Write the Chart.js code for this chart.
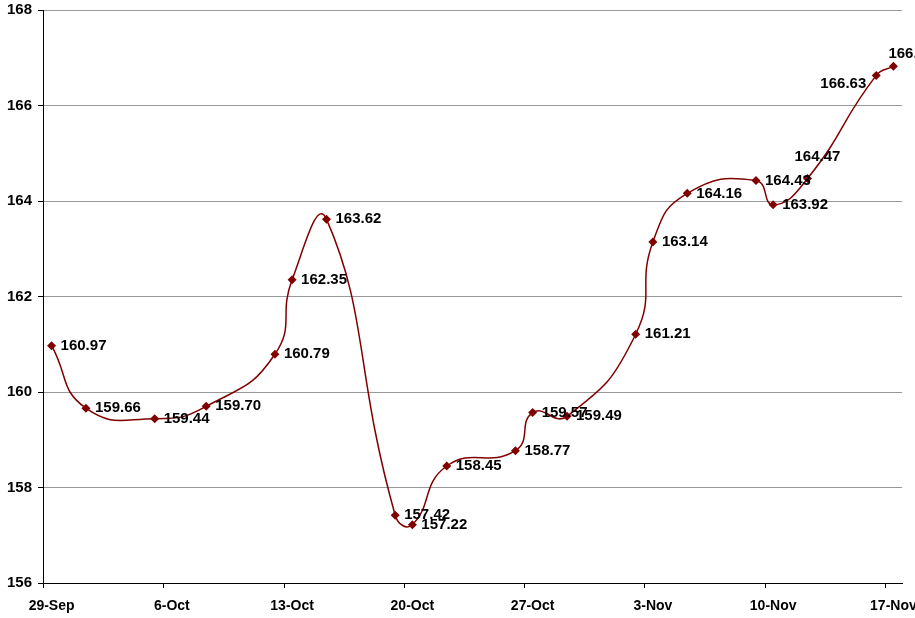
<!DOCTYPE html>
<html>
<head>
<meta charset="utf-8">
<script src="https://cdn.jsdelivr.net/npm/chart.js@4.4.0/dist/chart.umd.min.js"></script>
<style>
  html, body { margin: 0; padding: 0; background: #fff; }
</style>
</head>
<body>
<canvas id="chart" width="915" height="618"></canvas>
<script>
// day numbers counted from 29-Sep (Excel date axis, one slot per day)
const dayNumbers = [0, 2, 6, 9, 13, 14, 16, 20, 21, 23, 27, 28, 30, 34, 35, 37, 41, 42, 44, 48, 49];
const prices = [160.97, 159.66, 159.44, 159.70, 160.79, 162.35, 163.62, 157.42, 157.22, 158.45, 158.77,
                159.57, 159.49, 161.21, 163.14, 164.16, 164.43, 163.92, 164.47, 166.63, 166.82];
const tickDays = [0, 7, 14, 21, 28, 35, 42, 49];
const tickLabels = ['29-Sep', '6-Oct', '13-Oct', '20-Oct', '27-Oct', '3-Nov', '10-Nov', '17-Nov'];

Chart.defaults.font.family = "'Liberation Sans', Arial, sans-serif";
Chart.defaults.font.weight = 'bold';
Chart.defaults.color = '#000';

// label placement: most go right of the point, a few were moved by hand
const labelMoves = {
  18: { align: 'left', dx: -13, dy: -22 },
  19: { align: 'right', dx: -10, dy: 8 },
  20: { align: 'left', dx: -5, dy: -12 }
};

// tick marks sit on the day boundaries, labels in the middle of the slot
const dayTicks = {
  id: 'dayTicks',
  afterDraw(chart) {
    const ctx = chart.ctx, xs = chart.scales.x;
    ctx.save();
    ctx.strokeStyle = '#000';
    ctx.lineWidth = 1;
    tickDays.forEach(function (d) {
      const px = Math.round(xs.getPixelForValue(d - 0.5)) + 0.5;
      ctx.beginPath();
      ctx.moveTo(px, xs.top);
      ctx.lineTo(px, xs.top + 5);
      ctx.stroke();
    });
    ctx.restore();
  }
};

const valueLabels = {
  id: 'valueLabels',
  afterDatasetsDraw(chart) {
    const ctx = chart.ctx;
    const meta = chart.getDatasetMeta(0);
    ctx.save();
    ctx.font = "bold 15px 'Liberation Sans', Arial, sans-serif";
    ctx.fillStyle = '#000';
    ctx.textBaseline = 'middle';
    meta.data.forEach(function (pt, i) {
      const mv = labelMoves[i] || { align: 'left', dx: 9, dy: 0 };
      ctx.textAlign = mv.align;
      ctx.fillText(prices[i].toFixed(2), pt.x + mv.dx, pt.y + mv.dy);
    });
    ctx.restore();
  }
};

const ctx = document.getElementById('chart').getContext('2d');
const chart = new Chart(ctx, {
  type: 'line',
  data: {
    datasets: [{
      label: 'Price',
      data: dayNumbers.map((d, i) => ({ x: d, y: prices[i] })),
      borderColor: '#800000',
      backgroundColor: '#800000',
      borderWidth: 1.5,
      pointStyle: 'rectRot',
      pointRadius: 4.5,
      pointBorderWidth: 0,
      tension: 0.5,
      fill: false
    }]
  },
  options: {
    responsive: false,
    devicePixelRatio: 1,
    animation: false,
    layout: { padding: { top: 10, right: 13, left: 0, bottom: 0 } },
    plugins: { legend: { display: false }, tooltip: { enabled: false } },
    scales: {
      x: {
        type: 'linear',
        min: -0.5,
        max: 49.5,
        afterBuildTicks: function (scale) {
          scale.ticks = tickDays.map(v => ({ value: v }));
        },
        afterFit: function (scale) {
          scale.height = 35;
          scale.paddingLeft = 0;
          scale.paddingRight = 0;
        },
        ticks: {
          autoSkip: false,
          maxRotation: 0,
          padding: 7,
          font: { size: 14, weight: 'bold' },
          callback: function (v) { return tickLabels[tickDays.indexOf(v)]; }
        },
        grid: { display: false },
        border: { color: '#000', width: 1 }
      },
      y: {
        min: 156,
        max: 168,
        afterFit: function (scale) {
          scale.width = 43;
          scale.paddingTop = 0;
          scale.paddingBottom = 0;
        },
        ticks: {
          stepSize: 2,
          padding: 6,
          font: { size: 15, weight: 'bold' }
        },
        grid: { color: '#999', tickColor: '#000', tickLength: 5 },
        border: { color: '#000', width: 1 }
      }
    }
  },
  plugins: [dayTicks, valueLabels]
});
</script>
</body>
</html>
